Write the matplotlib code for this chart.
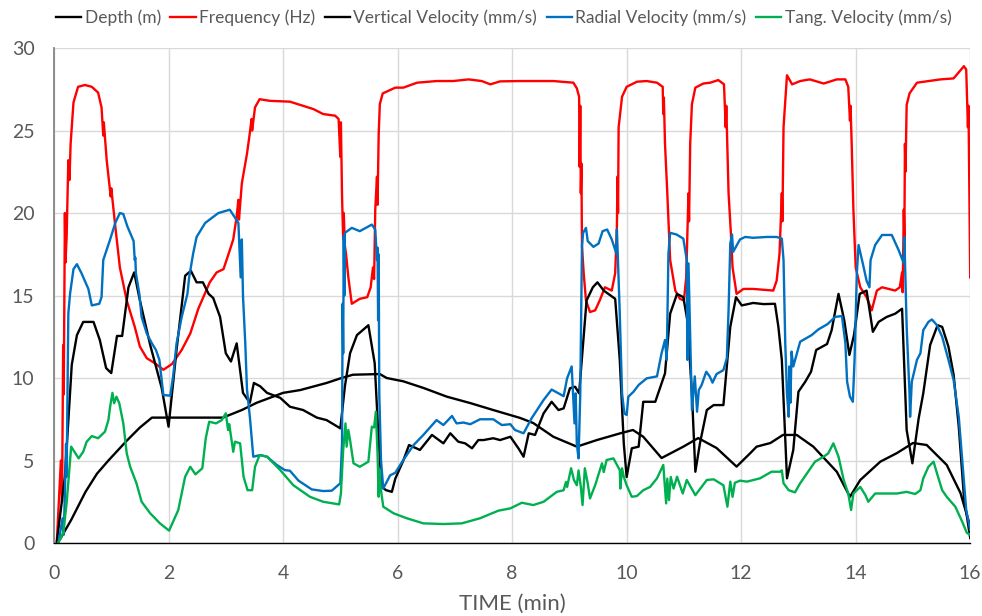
import matplotlib
matplotlib.use("Agg")
from matplotlib import pyplot as plt

# (time in min, value) pairs
depth = [(0.05, 0.0), (0.1, 0.2), (0.3, 1.4), (0.55, 3.1), (0.75, 4.2), (0.95, 5.0), (1.27, 6.2),
         (1.5, 7.0), (1.71, 7.6), (2.95, 7.6), (3.28, 8.06), (3.54, 8.5), (4.0, 9.1), (4.3, 9.27),
         (4.76, 9.7), (5.02, 10.0), (5.22, 10.2), (5.69, 10.24), (5.81, 10.0), (6.1, 9.8), (6.45, 9.4),
         (6.86, 8.87), (7.27, 8.48), (7.67, 8.06), (8.14, 7.58), (8.37, 7.27), (8.72, 6.44), (9.13, 5.84),
         (9.48, 6.24), (9.89, 6.65), (10.11, 6.85), (10.29, 6.44), (10.61, 5.15), (10.99, 5.84),
         (11.25, 6.36), (11.57, 5.76), (11.92, 4.63), (12.16, 5.45), (12.27, 5.84), (12.51, 6.06),
         (12.73, 6.55), (12.97, 6.55), (13.26, 5.84), (13.67, 4.32), (13.9, 2.8), (14.08, 3.82),
         (14.43, 4.93), (14.72, 5.45), (15.0, 6.06), (15.24, 5.94), (15.59, 4.73), (15.83, 3.03),
         (16.0, 1.0)]

frequency = [(0.05, 0.1), (0.12, 5.0), (0.14, 2.5), (0.16, 12.0), (0.17, 9.0), (0.19, 20.0), (0.2, 17.0),
             (0.22, 18.5), (0.25, 23.2), (0.27, 22.0), (0.29, 24.2), (0.34, 26.7), (0.42, 27.65),
             (0.54, 27.76), (0.66, 27.65), (0.77, 27.3), (0.83, 26.4), (0.86, 24.7), (0.87, 25.5),
             (0.92, 23.2), (0.99, 21.0), (1.0, 21.5), (1.07, 19.2), (1.15, 16.7), (1.27, 14.7),
             (1.41, 13.1), (1.5, 11.9), (1.62, 11.2), (1.76, 10.9), (1.91, 10.5), (2.06, 10.85),
             (2.23, 11.7), (2.38, 12.7), (2.52, 14.2), (2.72, 15.8), (2.84, 16.4), (2.96, 16.6),
             (3.07, 17.75), (3.13, 18.4), (3.19, 19.8), (3.22, 20.8), (3.23, 19.6), (3.28, 21.8),
             (3.37, 23.6), (3.41, 24.6), (3.45, 25.7), (3.46, 25.0), (3.51, 26.4), (3.59, 26.9),
             (3.77, 26.8), (4.12, 26.75), (4.35, 26.5), (4.53, 26.3), (4.7, 26.0), (4.91, 25.9),
             (4.97, 25.7), (5.0, 23.4), (5.01, 25.5), (5.03, 21.0), (5.05, 18.4), (5.06, 20.0),
             (5.08, 18.0), (5.1, 17.5), (5.14, 16.1), (5.2, 14.5), (5.34, 14.8), (5.47, 14.9),
             (5.53, 15.5), (5.57, 16.7), (5.59, 16.0), (5.61, 20.2), (5.64, 22.2), (5.65, 20.5),
             (5.67, 24.8), (5.69, 26.6), (5.74, 27.25), (5.96, 27.6), (6.1, 27.6), (6.34, 27.9),
             (6.68, 28.0), (6.97, 28.0), (7.24, 28.1), (7.47, 28.0), (7.62, 27.8), (7.79, 27.98),
             (8.14, 28.0), (8.72, 28.0), (9.07, 27.9), (9.13, 27.56), (9.17, 27.05), (9.18, 22.8),
             (9.19, 26.5), (9.2, 21.2), (9.21, 23.0), (9.22, 18.0), (9.25, 16.35), (9.29, 14.7),
             (9.36, 14.0), (9.45, 14.1), (9.53, 14.7), (9.62, 15.5), (9.74, 15.3), (9.8, 16.35),
             (9.83, 19.2), (9.84, 22.2), (9.85, 20.0), (9.86, 25.2), (9.92, 27.05), (10.0, 27.65),
             (10.18, 27.96), (10.35, 28.0), (10.53, 27.9), (10.63, 27.65), (10.64, 26.0), (10.65, 27.0),
             (10.67, 24.2), (10.71, 21.2), (10.76, 17.15), (10.85, 15.3), (10.93, 14.8), (11.0, 14.7),
             (11.04, 16.1), (11.08, 21.2), (11.09, 19.5), (11.11, 24.2), (11.14, 26.6), (11.2, 27.6),
             (11.34, 27.85), (11.46, 27.9), (11.6, 28.06), (11.7, 27.8), (11.73, 25.2), (11.74, 26.5),
             (11.78, 21.2), (11.82, 18.8), (11.85, 16.7), (11.92, 15.1), (12.04, 15.4), (12.21, 15.4),
             (12.56, 15.3), (12.62, 15.9), (12.67, 17.55), (12.71, 21.2), (12.72, 19.5), (12.74, 25.2),
             (12.8, 28.35), (12.89, 27.8), (13.03, 28.0), (13.2, 28.1), (13.44, 27.85), (13.67, 28.1),
             (13.82, 28.1), (13.87, 27.65), (13.9, 25.6), (13.91, 26.5), (13.93, 24.2), (13.96, 20.2),
             (14.0, 16.7), (14.08, 15.5), (14.19, 14.9), (14.28, 14.1), (14.37, 15.3), (14.46, 15.5),
             (14.69, 15.3), (14.77, 15.5), (14.81, 16.4), (14.82, 15.2), (14.84, 20.2), (14.85, 18.5),
             (14.86, 24.2), (14.87, 22.5), (14.89, 26.55), (14.94, 27.25), (15.07, 27.9), (15.48, 28.1),
             (15.71, 28.16), (15.89, 28.9), (15.93, 28.7), (15.96, 25.2), (15.97, 26.5), (15.99, 19.2),
             (16.0, 16.1)]

vertical = [(0.05, 0.1), (0.19, 4.0), (0.31, 10.8), (0.4, 12.6), (0.51, 13.4), (0.69, 13.4), (0.8, 12.3),
            (0.91, 10.6), (1.0, 10.3), (1.1, 12.55), (1.19, 12.55), (1.3, 15.5), (1.4, 16.4), (1.5, 14.7),
            (1.68, 12.0), (1.88, 9.4), (2.0, 7.05), (2.14, 11.7), (2.29, 16.2), (2.39, 16.5), (2.49, 15.8),
            (2.6, 15.8), (2.7, 15.1), (2.78, 14.85), (2.9, 13.7), (3.0, 11.5), (3.09, 11.0), (3.19, 12.1),
            (3.3, 9.1), (3.42, 8.5), (3.49, 9.7), (3.6, 9.5), (3.72, 9.1), (3.95, 8.8), (4.12, 8.26),
            (4.35, 8.06), (4.59, 7.6), (4.76, 7.45), (5.0, 6.95), (5.08, 9.5), (5.17, 11.5), (5.29, 12.6),
            (5.49, 13.2), (5.6, 10.9), (5.66, 6.85), (5.72, 3.4), (5.8, 3.2), (5.9, 3.1), (5.96, 3.9),
            (6.1, 5.0), (6.2, 5.94), (6.39, 5.64), (6.6, 6.55), (6.8, 6.04), (6.92, 6.65), (7.06, 6.14),
            (7.18, 6.04), (7.3, 5.74), (7.41, 6.24), (7.5, 6.24), (7.67, 6.35), (7.79, 6.24), (7.97, 6.44),
            (8.11, 5.74), (8.2, 5.23), (8.29, 6.65), (8.4, 6.55), (8.55, 7.86), (8.69, 8.56), (8.81, 8.06),
            (8.9, 8.16), (9.01, 9.38), (9.1, 9.47), (9.17, 9.07), (9.3, 14.7), (9.41, 15.5), (9.49, 15.8),
            (9.6, 15.3), (9.8, 14.8), (9.88, 11.1), (9.95, 6.04), (10.0, 4.0), (10.09, 5.74), (10.21, 5.84),
            (10.29, 8.56), (10.5, 8.56), (10.67, 10.28), (10.76, 13.9), (10.88, 15.1), (10.99, 14.9),
            (11.06, 13.5), (11.14, 9.07), (11.2, 4.32), (11.28, 6.04), (11.4, 8.06), (11.52, 8.36),
            (11.69, 8.36), (11.81, 13.1), (11.91, 14.9), (12.01, 14.4), (12.21, 14.55), (12.39, 14.48),
            (12.59, 14.5), (12.65, 13.1), (12.71, 11.1), (12.8, 3.92), (12.91, 5.64), (13.0, 9.17),
            (13.12, 9.78), (13.22, 10.38), (13.31, 11.7), (13.5, 12.06), (13.58, 12.9), (13.7, 15.1),
            (13.8, 13.5), (13.89, 11.4), (13.97, 12.6), (14.07, 15.1), (14.19, 15.3), (14.3, 12.8),
            (14.4, 13.4), (14.54, 13.7), (14.69, 13.9), (14.81, 14.2), (14.89, 6.85), (14.99, 4.83),
            (15.1, 7.56), (15.18, 9.07), (15.3, 12.0), (15.43, 13.2), (15.51, 13.1), (15.62, 11.9),
            (15.71, 10.2), (15.8, 7.05), (15.89, 2.8), (16.0, 0.3)]

radial = [(0.08, 0.08), (0.15, 1.5), (0.17, 0.5), (0.19, 3.0), (0.21, 6.0), (0.22, 4.0), (0.25, 13.9),
          (0.28, 15.1), (0.34, 16.6), (0.4, 16.9), (0.48, 16.35), (0.6, 15.4), (0.66, 14.4), (0.79, 14.5),
          (0.83, 14.9), (0.86, 17.15), (0.98, 18.4), (1.07, 19.4), (1.15, 20.0), (1.21, 19.94), (1.28, 19.2),
          (1.39, 18.3), (1.41, 17.15), (1.42, 17.3), (1.43, 16.35), (1.49, 15.1), (1.53, 13.7), (1.62, 12.7),
          (1.71, 12.1), (1.78, 11.7), (1.84, 11.1), (1.91, 8.97), (2.03, 8.93), (2.08, 10.1), (2.14, 12.1),
          (2.23, 13.7), (2.33, 15.1), (2.36, 16.1), (2.43, 17.55), (2.49, 18.55), (2.64, 19.4), (2.87, 20.0),
          (3.07, 20.2), (3.22, 19.4), (3.26, 16.1), (3.28, 18.4), (3.3, 15.0), (3.34, 12.1), (3.37, 9.3),
          (3.42, 7.65), (3.48, 5.23), (3.6, 5.33), (3.72, 5.23), (3.89, 4.73), (4.03, 4.42), (4.12, 4.38),
          (4.27, 3.78), (4.5, 3.25), (4.7, 3.15), (4.85, 3.17), (5.0, 3.62), (5.03, 6.04), (5.04, 14.5),
          (5.05, 11.5), (5.06, 18.6), (5.07, 15.0), (5.08, 18.8), (5.2, 19.1), (5.34, 18.9), (5.55, 19.3),
          (5.61, 19.0), (5.64, 17.15), (5.65, 17.9), (5.66, 13.5), (5.67, 17.5), (5.68, 9.07), (5.71, 5.03),
          (5.75, 3.3), (5.87, 4.1), (5.96, 4.26), (6.1, 5.03), (6.28, 5.94), (6.45, 6.55), (6.68, 7.45),
          (6.8, 7.15), (6.95, 7.7), (7.03, 7.25), (7.15, 7.3), (7.27, 7.2), (7.44, 7.5), (7.67, 7.5),
          (7.82, 7.15), (7.97, 7.2), (8.05, 6.85), (8.2, 6.65), (8.34, 7.56), (8.55, 8.67), (8.69, 9.3),
          (8.9, 8.9), (8.96, 9.98), (9.04, 10.7), (9.09, 7.25), (9.11, 9.07), (9.13, 6.0), (9.16, 5.13),
          (9.19, 9.0), (9.22, 18.0), (9.24, 18.8), (9.29, 19.1), (9.32, 18.3), (9.42, 17.95), (9.51, 18.15),
          (9.58, 18.9), (9.66, 19.0), (9.74, 18.4), (9.82, 17.55), (9.83, 19.0), (9.88, 13.9), (9.92, 9.07),
          (9.96, 7.86), (10.0, 7.76), (10.03, 8.87), (10.12, 9.17), (10.21, 9.58), (10.35, 9.98),
          (10.53, 10.1), (10.61, 11.5), (10.67, 12.3), (10.7, 11.1), (10.73, 17.55), (10.76, 18.8),
          (10.87, 18.7), (10.99, 18.45), (11.05, 17.15), (11.06, 11.1), (11.08, 16.95), (11.14, 8.06),
          (11.19, 10.1), (11.23, 7.96), (11.26, 9.27), (11.31, 9.58), (11.39, 10.38), (11.45, 10.1),
          (11.5, 9.72), (11.57, 10.24), (11.69, 10.48), (11.75, 11.2), (11.78, 14.1), (11.81, 18.15),
          (11.84, 18.7), (11.86, 17.65), (11.98, 18.4), (12.07, 18.55), (12.21, 18.5), (12.45, 18.55),
          (12.62, 18.55), (12.71, 18.45), (12.74, 17.15), (12.77, 12.1), (12.8, 9.07), (12.83, 7.65),
          (12.84, 10.7), (12.86, 8.5), (12.88, 11.6), (12.91, 10.7), (13.03, 12.2), (13.23, 12.6),
          (13.35, 12.95), (13.51, 13.27), (13.64, 13.7), (13.76, 13.76), (13.82, 12.1), (13.85, 9.78),
          (13.9, 8.87), (13.95, 8.56), (13.98, 11.1), (14.02, 16.35), (14.05, 18.06), (14.13, 16.85),
          (14.19, 15.9), (14.24, 15.5), (14.26, 17.15), (14.34, 18.06), (14.46, 18.67), (14.63, 18.67),
          (14.75, 17.75), (14.84, 16.95), (14.85, 18.55), (14.89, 13.1), (14.94, 9.07), (14.95, 7.65),
          (14.98, 9.78), (15.07, 11.1), (15.13, 11.5), (15.18, 12.9), (15.27, 13.4), (15.33, 13.55),
          (15.42, 13.2), (15.51, 12.5), (15.62, 11.1), (15.71, 9.88), (15.8, 7.65), (15.86, 5.03),
          (15.93, 2.0), (16.0, 0.8)]

tangential = [(0.08, 0.05), (0.16, 0.6), (0.22, 2.4), (0.3, 5.84), (0.43, 5.13), (0.51, 5.53), (0.57, 6.14),
              (0.66, 6.48), (0.77, 6.35), (0.89, 6.75), (0.95, 7.45), (0.98, 8.26), (1.02, 9.1), (1.05, 8.47),
              (1.09, 8.87), (1.14, 8.47), (1.21, 7.25), (1.27, 5.43), (1.33, 4.62), (1.44, 3.62), (1.53, 2.5),
              (1.68, 1.8), (1.85, 1.19), (2.01, 0.75), (2.17, 2.0), (2.29, 4.02), (2.38, 4.62), (2.47, 4.16),
              (2.59, 4.53), (2.65, 6.35), (2.71, 7.35), (2.83, 7.25), (2.93, 7.45), (3.0, 7.86), (3.04, 6.85),
              (3.06, 7.2), (3.1, 6.24), (3.13, 5.53), (3.16, 6.14), (3.25, 6.04), (3.31, 4.02), (3.38, 3.2),
              (3.46, 3.2), (3.51, 4.62), (3.59, 5.33), (3.72, 5.23), (3.95, 4.42), (4.18, 3.5), (4.47, 2.8),
              (4.7, 2.5), (4.98, 2.34), (5.01, 3.0), (5.05, 5.64), (5.09, 7.25), (5.11, 5.84), (5.14, 6.85),
              (5.17, 6.24), (5.23, 4.83), (5.34, 4.62), (5.49, 4.93), (5.55, 7.05), (5.59, 7.0), (5.62, 7.96),
              (5.65, 5.43), (5.67, 2.8), (5.68, 4.5), (5.71, 3.2), (5.75, 2.2), (5.93, 1.8), (6.16, 1.5),
              (6.45, 1.19), (6.8, 1.15), (7.12, 1.19), (7.44, 1.5), (7.76, 1.96), (7.97, 2.1), (8.17, 2.44),
              (8.37, 2.3), (8.55, 2.5), (8.78, 3.1), (8.9, 3.2), (8.94, 3.7), (8.96, 3.4), (9.03, 4.53),
              (9.08, 3.82), (9.13, 3.5), (9.16, 4.4), (9.2, 3.4), (9.23, 2.3), (9.27, 4.53), (9.32, 3.62),
              (9.36, 2.7), (9.45, 3.5), (9.57, 4.83), (9.6, 4.3), (9.65, 5.03), (9.77, 5.13), (9.88, 4.42),
              (9.89, 3.3), (9.92, 4.53), (9.95, 4.02), (10.0, 3.5), (10.09, 2.8), (10.18, 2.85), (10.29, 3.2),
              (10.41, 3.4), (10.53, 3.92), (10.64, 4.73), (10.69, 2.4), (10.71, 3.9), (10.74, 2.6),
              (10.77, 4.0), (10.82, 3.3), (10.88, 4.02), (10.98, 3.0), (11.05, 3.82), (11.2, 2.9),
              (11.4, 3.82), (11.52, 3.86), (11.69, 3.5), (11.76, 2.2), (11.81, 3.72), (11.85, 2.8),
              (11.89, 3.65), (11.98, 3.78), (12.1, 3.72), (12.33, 3.92), (12.53, 4.32), (12.68, 4.32),
              (12.71, 4.4), (12.74, 3.62), (12.83, 3.2), (12.94, 3.07), (13.03, 3.62), (13.15, 4.22),
              (13.29, 4.93), (13.44, 5.23), (13.52, 5.43), (13.61, 6.04), (13.7, 5.23), (13.79, 3.82),
              (13.87, 3.0), (13.92, 2.0), (13.96, 3.0), (14.08, 3.4), (14.17, 2.9), (14.22, 2.5), (14.34, 3.0),
              (14.49, 3.0), (14.72, 3.0), (14.89, 3.1), (15.04, 2.97), (15.13, 3.2), (15.18, 3.92),
              (15.27, 4.62), (15.36, 4.93), (15.42, 4.22), (15.51, 3.2), (15.59, 2.8), (15.74, 2.2),
              (15.86, 1.29), (15.94, 0.62), (16.0, 0.5)]

series = [
    ("Depth (m)", depth, "#000000"),
    ("Frequency (Hz)", frequency, "#FF0000"),
    ("Vertical Velocity (mm/s)", vertical, "#000000"),
    ("Radial Velocity (mm/s)", radial, "#0070C0"),
    ("Tang. Velocity (mm/s)", tangential, "#00B050"),
]

plt.rcParams['font.family'] = ['Lato', 'DejaVu Sans']
text_grey = "#595959"

fig = plt.figure(figsize=(9.82, 6.16), dpi=100)
ax = fig.add_axes([0.055, 0.1185, 0.933, 0.8035])

for name, points, color in series:
    t = [p[0] for p in points]
    v = [p[1] for p in points]
    ax.plot(t, v, color=color, lw=1.7, label=name, solid_joinstyle="round")

ax.set_xlim(0, 16)
ax.set_ylim(0, 30)
ax.set_xticks(range(0, 17, 2))
ax.set_yticks(range(0, 31, 5))
ax.grid(True, color="#d9d9d9", lw=1.0)
ax.set_axisbelow(True)
for side in ["top", "right"]:
    ax.spines[side].set_visible(False)
ax.spines["left"].set_color("#868686")
ax.spines["left"].set_linewidth(1.3)
ax.spines["bottom"].set_color("#000000")
ax.spines["bottom"].set_linewidth(1.0)
ax.tick_params(length=0, labelsize=14, colors=text_grey)
ax.tick_params(axis="x", pad=16)
ax.tick_params(axis="y", pad=14)
ax.set_xlabel("TIME (min)", fontsize=16, color=text_grey)
ax.xaxis.set_label_coords(0.5, -0.103)

fig.legend(loc="upper center", bbox_to_anchor=(0.513, 1.01), ncol=5, frameon=False,
           fontsize=12.5, labelcolor=text_grey, handlelength=1.45, handletextpad=0.2,
           columnspacing=0.55)

fig.savefig("out.png", dpi=100)
